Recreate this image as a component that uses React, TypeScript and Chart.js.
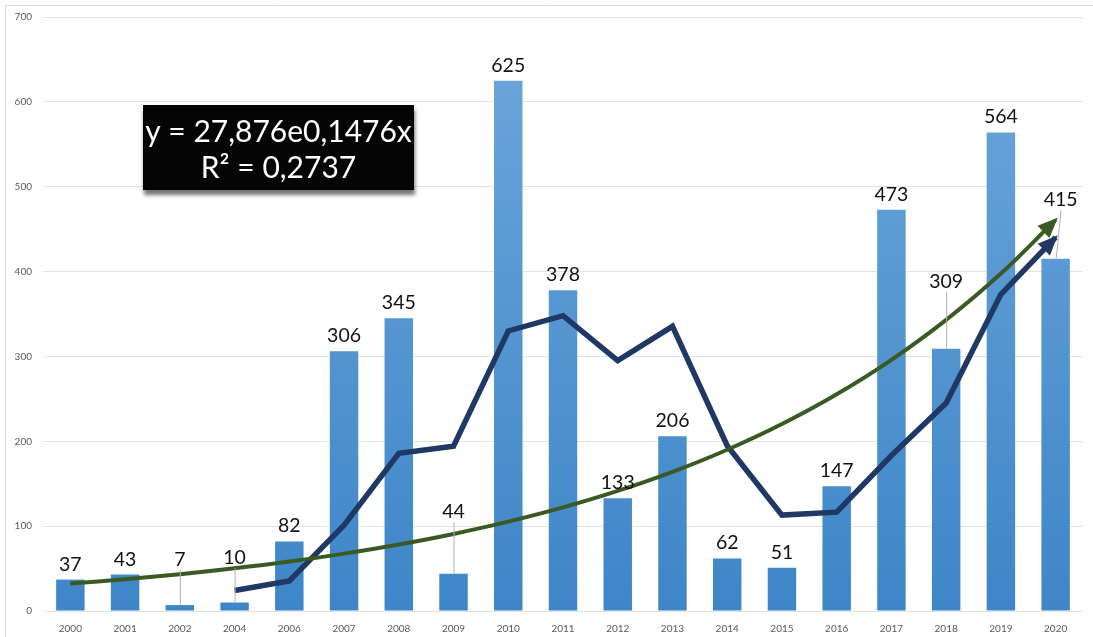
import React, { useEffect, useRef } from "react";
import { Chart, registerables } from "chart.js";

Chart.register(...registerables);

const years = ["2000", "2001", "2002", "2004", "2006", "2007", "2008", "2009", "2010", "2011", "2012", "2013", "2014", "2015", "2016", "2017", "2018", "2019", "2020"];
const counts = [37, 43, 7, 10, 82, 306, 345, 44, 625, 378, 133, 206, 62, 51, 147, 473, 309, 564, 415];
// 4-period moving average (navy line)
const movingAvg = [null, null, null, 24.25, 35.5, 101.25, 185.75, 194.25, 330, 348, 295, 335.5, 194.75, 113, 116.5, 183.25, 245, 373.25, 440.25];
// exponential trendline (green), y = 27,876e0,1476x
const expTrend = [32.31, 37.45, 43.41, 50.32, 58.32, 67.6, 78.36, 90.83, 105.28, 122.03, 141.45, 163.95, 190.04, 220.27, 255.32, 295.95, 343.03, 397.62, 460.88];
const yTicks = [0, 100, 200, 300, 400, 500, 600, 700];
const equationLines = ["y = 27,876e0,1476x", "R\u00b2 = 0,2737"];
// labels moved away from their bars (with leader lines): value level of label bottom, x shift in px
const labelMoves: Record<number, { at: number; dx: number }> = {
  2: { at: 52, dx: 0 },
  3: { at: 54, dx: 0 },
  7: { at: 108, dx: 0 },
  16: { at: 380, dx: 0 },
  18: { at: 476, dx: 5 },
};

const NAVY = "#1f3864";
const GREEN = "#3b5a23";

const overlayPlugin = {
  id: "overlay",
  afterDatasetsDraw(chart: any) {
    const ctx = chart.ctx;
    [1, 2].forEach((di) => {
      const meta = chart.getDatasetMeta(di);
      const pts = meta.data;
      const last = pts[pts.length - 1];
      const prev = pts[pts.length - 2];
      const ang = Math.atan2(last.y - prev.y, last.x - prev.x);
      const color = chart.data.datasets[di].borderColor;
      const L = 17, W = 8.5;
      ctx.save();
      ctx.fillStyle = color;
      ctx.translate(last.x, last.y);
      ctx.rotate(ang);
      ctx.beginPath();
      ctx.moveTo(3, 0);
      ctx.lineTo(-L, -W);
      ctx.lineTo(-L, W);
      ctx.closePath();
      ctx.fill();
      ctx.restore();
    });
  },
  afterDraw(chart: any) {
    const ctx = chart.ctx;
    const ys = chart.scales.y;
    const meta = chart.getDatasetMeta(0);
    ctx.save();
    ctx.font = "19.5px Lato";
    ctx.fillStyle = "#111";
    ctx.textAlign = "center";
    ctx.textBaseline = "alphabetic";
    meta.data.forEach((bar: any, i: number) => {
      const mv = labelMoves[i];
      let x = bar.x;
      let bottom = bar.y - 8;
      if (mv) {
        x += mv.dx;
        bottom = ys.getPixelForValue(mv.at);
        ctx.save();
        ctx.strokeStyle = "#b0b0b0";
        ctx.lineWidth = 1;
        ctx.beginPath();
        ctx.moveTo(x + 0.5, bottom + 3);
        ctx.lineTo(bar.x + 0.5, bar.y);
        ctx.stroke();
        ctx.restore();
      }
      ctx.fillText(String(counts[i]), x, bottom - 1);
    });
    ctx.restore();

    const bx = 143, by = 105, bw = 271, bh = 85;
    ctx.save();
    ctx.shadowColor = "rgba(0,0,0,0.55)";
    ctx.shadowOffsetY = 5;
    ctx.shadowOffsetX = 1;
    ctx.shadowBlur = 4;
    ctx.fillStyle = "#050505";
    ctx.fillRect(bx, by, bw, bh);
    ctx.restore();
    ctx.save();
    ctx.fillStyle = "#ffffff";
    ctx.font = "30px Lato";
    ctx.textAlign = "center";
    ctx.textBaseline = "middle";
    ctx.fillText(equationLines[0], bx + bw / 2, by + 27);
    ctx.fillText(equationLines[1], bx + bw / 2, by + 63);
    ctx.restore();

    ctx.save();
    ctx.strokeStyle = "#d9d9d9";
    ctx.lineWidth = 1;
    ctx.beginPath();
    ctx.moveTo(5.5, 637);
    ctx.lineTo(5.5, 5.5);
    ctx.lineTo(1093, 5.5);
    ctx.stroke();
    ctx.restore();
  },
};

export default function App() {
  const ref = useRef<HTMLCanvasElement | null>(null);
  useEffect(() => {
    if (!ref.current) return;
    const barGradient = (context: any) => {
      const chart = context.chart;
      const area = chart.chartArea;
      if (!area) return "#5b9bd5";
      const g = chart.ctx.createLinearGradient(0, area.top, 0, area.bottom);
      g.addColorStop(0, "#6ea7db");
      g.addColorStop(1, "#3e86c8");
      return g;
    };
    const chart = new Chart(ref.current, {
      type: "bar",
      data: {
        labels: years,
        datasets: [
          {
            type: "bar",
            data: counts,
            backgroundColor: barGradient,
            borderWidth: 0,
            categoryPercentage: 1,
            barPercentage: 0.52,
            order: 3,
          } as any,
          {
            type: "line",
            data: movingAvg,
            borderColor: NAVY,
            borderWidth: 5.5,
            pointRadius: 0,
            tension: 0,
            spanGaps: false,
            borderJoinStyle: "miter",
            order: 2,
          } as any,
          {
            type: "line",
            data: expTrend,
            borderColor: GREEN,
            borderWidth: 4,
            pointRadius: 0,
            tension: 0.4,
            order: 1,
          } as any,
        ],
      },
      options: {
        animation: false,
        responsive: false,
        maintainAspectRatio: false,
        layout: { padding: { left: 5, right: 10, top: 17, bottom: 4 } },
        plugins: { legend: { display: false }, tooltip: { enabled: false } },
        scales: {
          x: {
            offset: true,
            grid: { display: false },
            border: { display: false },
            ticks: { color: "#595959", font: { family: "Lato", size: 10 }, padding: 4, maxRotation: 0, autoSkip: false },
            afterFit: (s: any) => { s.height = 22; },
          },
          y: {
            min: 0,
            max: 700,
            afterBuildTicks: (s: any) => { s.ticks = yTicks.map((v) => ({ value: v })); },
            grid: { color: "#e3e3e3", lineWidth: 1, drawTicks: false },
            border: { display: false },
            ticks: { color: "#595959", font: { family: "Lato", size: 10 }, padding: 11 },
            afterFit: (s: any) => { s.width = 38; },
          },
        },
      },
      plugins: [overlayPlugin],
    });
    return () => chart.destroy();
  }, []);
  return (
    <div style={{ position: "fixed", left: 0, top: 0, width: 1093, height: 637, background: "#fff" }}>
      <canvas ref={ref} width={1093} height={637} style={{ width: 1093, height: 637, display: "block" }} />
    </div>
  );
}
